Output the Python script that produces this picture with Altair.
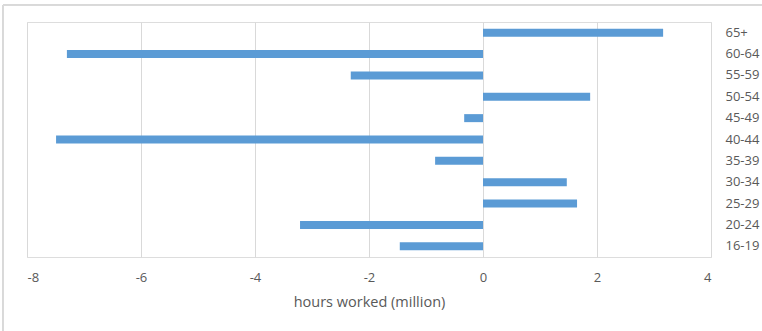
import altair as alt
import pandas as pd

age_groups = ["65+", "60-64", "55-59", "50-54", "45-49", "40-44",
              "35-39", "30-34", "25-29", "20-24", "16-19"]
hours_change = [3.16, -7.30, -2.32, 1.88, -0.33, -7.49,
                -0.84, 1.47, 1.65, -3.21, -1.46]
x_ticks = [-8, -6, -4, -2, 0, 2, 4]

df = pd.DataFrame({"age": age_groups, "hours": hours_change})

FONT = "Open Sans"
GREY = "#595959"

bars = alt.Chart(df).mark_bar(color="#5b9bd5").encode(
    x=alt.X("hours:Q",
            scale=alt.Scale(domain=[-8, 4], nice=False, zero=False),
            axis=alt.Axis(values=x_ticks, title="hours worked (million)",
                          labelExpr="'' + datum.value",
                          domain=False, ticks=False, grid=True,
                          gridColor="#d9d9d9", gridWidth=1,
                          labelFont=FONT, labelFontSize=13, labelColor=GREY,
                          labelPadding=14,
                          titleFont=FONT, titleFontSize=14.5, titleColor=GREY,
                          titleFontWeight="normal", titlePadding=11)),
    y=alt.Y("age:N", sort=age_groups,
            scale=alt.Scale(paddingInner=0.625, paddingOuter=0.3125),
            axis=alt.Axis(orient="right", title=None, domain=False, ticks=False,
                          grid=False, labelAlign="left", labelPadding=14,
                          labelFont=FONT, labelFontSize=13, labelColor=GREY)),
)

frame = alt.Chart(df).mark_rect(fill=None, stroke="#d9d9d9", strokeWidth=1).encode(
    x=alt.value(-24), x2=alt.value(760), y=alt.value(-17), y2=alt.value(400)
)

chart = alt.layer(frame, bars).properties(
    width=684, height=235,
    autosize=alt.AutoSizeParams(type="none"),
    padding={"left": 27, "top": 22, "right": 51, "bottom": 74},
).configure_view(stroke=None).configure(background="white")

chart.save("out.html", embed_options={"renderer": "svg", "actions": False})
